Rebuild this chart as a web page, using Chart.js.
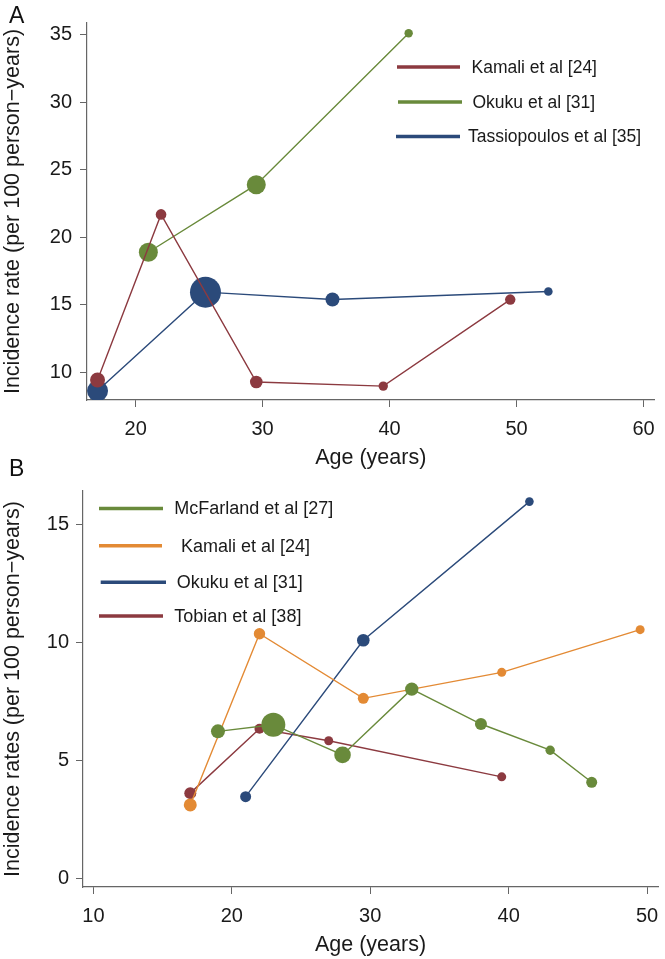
<!DOCTYPE html>
<html>
<head>
<meta charset="utf-8">
<script src="https://cdn.jsdelivr.net/npm/chart.js@4.4.1/dist/chart.umd.min.js"></script>
<style>
html, body { margin: 0; padding: 0; background: #fff; }
#wrap { position: relative; width: 665px; height: 959px; overflow: hidden; background: #fff; }
canvas { position: absolute; left: 0; }
#cA { top: 0; }
#cB { top: 430px; }
</style>
</head>
<body>
<div id="wrap">
  <canvas id="cA" width="665" height="475"></canvas>
  <canvas id="cB" width="665" height="529"></canvas>
</div>
<script>
// ---------- Panel A data ----------
const ageKamaliA  = [17, 22, 29.5, 39.5, 49.5];
const rateKamaliA = [9.45, 21.7, 9.3, 9.0, 15.4];
const sizeKamaliA = [7.5, 5.3, 6.3, 4.7, 5.2];

const ageOkukuA  = [21, 29.5, 41.5];
const rateOkukuA = [18.9, 23.9, 35.1];
const sizeOkukuA = [9.5, 9.5, 4.2];

const ageTassA  = [17, 25.5, 35.5, 52.5];
const rateTassA = [8.65, 15.95, 15.4, 16.0];
const sizeTassA = [10.5, 15.5, 7, 4.3];

const xTicksA = [20, 30, 40, 50, 60];
const yTicksA = [10, 15, 20, 25, 30, 35];

// ---------- Panel B data ----------
const ageMcFarlandB  = [19, 23, 28, 33, 38, 43, 46];
const rateMcFarlandB = [6.22, 6.5, 5.22, 8.01, 6.53, 5.42, 4.06];
const sizeMcFarlandB = [7, 12, 8.3, 6.7, 6, 4.7, 5.5];

const ageKamaliB  = [17, 22, 29.5, 39.5, 49.5];
const rateKamaliB = [3.1, 10.36, 7.62, 8.72, 10.53];
const sizeKamaliB = [6.5, 5.7, 5.5, 4.5, 4.5];

const ageOkukuB  = [21, 29.5, 41.5];
const rateOkukuB = [3.45, 10.08, 15.96];
const sizeOkukuB = [5.5, 6.3, 4.3];

const ageTobianB  = [17, 22, 27, 39.5];
const rateTobianB = [3.6, 6.33, 5.82, 4.29];
const sizeTobianB = [6, 5, 4.5, 4.5];

const xTicksB = [10, 20, 30, 40, 50];
const yTicksB = [0, 5, 10, 15];

// ---------- styling ----------
const RED = '#8c3a40', GREEN = '#698a3b', BLUE = '#2b4a7a', ORANGE = '#e38a34';
const FONT = '"Liberation Sans", Arial, Helvetica, sans-serif';

function pts(ages, rates) { return ages.map((a, i) => ({ x: a, y: rates[i] })); }

function ds(label, color, ages, rates, sizes) {
  return {
    label: label,
    data: pts(ages, rates),
    borderColor: color,
    backgroundColor: color,
    pointBackgroundColor: color,
    pointBorderColor: color,
    pointBorderWidth: 0,
    pointRadius: sizes,
    pointHoverRadius: sizes,
    borderWidth: 1.4,
    tension: 0,
    fill: false
  };
}

function makeOverlay(cfg) {
  return {
    id: 'overlay' + cfg.letter,
    afterDraw(chart) {
      const ctx = chart.ctx;
      ctx.save();
      ctx.fillStyle = '#111';
      ctx.textAlign = 'left';
      ctx.textBaseline = 'alphabetic';
      ctx.font = cfg.letterSize + 'px ' + FONT;
      ctx.fillText(cfg.letter, cfg.letterX, cfg.letterY);
      ctx.font = cfg.legendSize + 'px ' + FONT;
      ctx.textBaseline = 'middle';
      cfg.items.forEach(it => {
        const d = chart.data.datasets[it.dataset];
        ctx.strokeStyle = d.borderColor;
        ctx.lineWidth = cfg.legendLineWidth;
        ctx.lineCap = 'butt';
        ctx.beginPath();
        ctx.moveTo(it.x1, it.y);
        ctx.lineTo(it.x2, it.y);
        ctx.stroke();
        ctx.fillStyle = '#1a1a1a';
        ctx.fillText(d.label, it.tx, it.y + 1);
      });
      ctx.restore();
    }
  };
}

function axis(opts) {
  return {
    type: 'linear',
    min: opts.min,
    max: opts.max,
    afterBuildTicks: s => { s.ticks = opts.ticks.map(v => ({ value: v })); },
    afterFit: s => {
      if (opts.width !== undefined) s.width = opts.width;
      if (opts.height !== undefined) s.height = opts.height;
      s.paddingLeft = 0; s.paddingRight = 0; s.paddingTop = 0; s.paddingBottom = 0;
    },
    grid: { display: true, drawOnChartArea: false, drawTicks: true, tickLength: 7, color: '#666', lineWidth: 1 },
    border: { display: true, color: '#666', width: 1.2 },
    ticks: {
      color: '#1a1a1a',
      font: { family: FONT, size: 20 },
      padding: opts.tickPad,
      maxRotation: 0,
      autoSkip: false,
      callback: v => String(v)
    },
    title: {
      display: true,
      text: opts.title,
      color: '#1a1a1a',
      font: { family: FONT, size: 21.5, lineHeight: 1.2 },
      padding: opts.titlePad
    }
  };
}

Chart.defaults.font.family = FONT;

// ---------- Chart A ----------
new Chart(document.getElementById('cA'), {
  type: 'line',
  data: {
    datasets: [
      ds('Kamali et al [24]', RED, ageKamaliA, rateKamaliA, sizeKamaliA),
      ds('Okuku et al [31]', GREEN, ageOkukuA, rateOkukuA, sizeOkukuA),
      ds('Tassiopoulos et al [35]', BLUE, ageTassA, rateTassA, sizeTassA)
    ]
  },
  options: {
    responsive: false,
    devicePixelRatio: 1,
    animation: false,
    events: [],
    layout: { padding: { left: 0, top: 23, right: 6, bottom: 0 } },
    plugins: { legend: { display: false }, tooltip: { enabled: false } },
    scales: {
      x: axis({ min: 16.17, max: 60.86, ticks: xTicksA, height: 75, tickPad: 10, title: 'Age (years)', titlePad: { top: 0, bottom: 4 } }),
      y: axis({ min: 7.97, max: 35.86, ticks: yTicksA, width: 87, tickPad: 8, title: 'Incidence rate (per 100 person\u2212years)', titlePad: { top: 0, bottom: 0 } })
    }
  },
  plugins: [makeOverlay({
    letter: 'A', letterSize: 23, letterX: 9, letterY: 23,
    legendSize: 17.5, legendLineWidth: 3.5,
    items: [
      { dataset: 0, x1: 397, x2: 460, y: 67, tx: 471.5 },
      { dataset: 1, x1: 398, x2: 462, y: 102, tx: 472.5 },
      { dataset: 2, x1: 396, x2: 460, y: 136.5, tx: 468 }
    ]
  })]
});

// ---------- Chart B ----------
new Chart(document.getElementById('cB'), {
  type: 'line',
  data: {
    datasets: [
      ds('McFarland et al [27]', GREEN, ageMcFarlandB, rateMcFarlandB, sizeMcFarlandB),
      ds('Kamali et al [24]', ORANGE, ageKamaliB, rateKamaliB, sizeKamaliB),
      ds('Okuku et al [31]', BLUE, ageOkukuB, rateOkukuB, sizeOkukuB),
      ds('Tobian et al [38]', RED, ageTobianB, rateTobianB, sizeTobianB)
    ]
  },
  options: {
    responsive: false,
    devicePixelRatio: 1,
    animation: false,
    events: [],
    layout: { padding: { left: 0, top: 61, right: 2, bottom: 0 } },
    plugins: { legend: { display: false }, tooltip: { enabled: false } },
    scales: {
      x: axis({ min: 9.25, max: 50.79, ticks: xTicksB, height: 72, tickPad: 10, title: 'Age (years)', titlePad: { top: 0, bottom: 1 } }),
      y: axis({ min: -0.38, max: 16.41, ticks: yTicksB, width: 83, tickPad: 7, title: 'Incidence rates (per 100 person\u2212years)', titlePad: { top: 0, bottom: 0 } })
    }
  },
  plugins: [makeOverlay({
    letter: 'B', letterSize: 23, letterX: 9, letterY: 46,
    legendSize: 18, legendLineWidth: 3.5,
    items: [
      { dataset: 0, x1: 99, x2: 163, y: 78.5, tx: 174.3 },
      { dataset: 1, x1: 99, x2: 162, y: 115.7, tx: 181 },
      { dataset: 2, x1: 100.7, x2: 166, y: 152.3, tx: 176.7 },
      { dataset: 3, x1: 99, x2: 163, y: 186, tx: 174.3 }
    ]
  })]
});
</script>
</body>
</html>
